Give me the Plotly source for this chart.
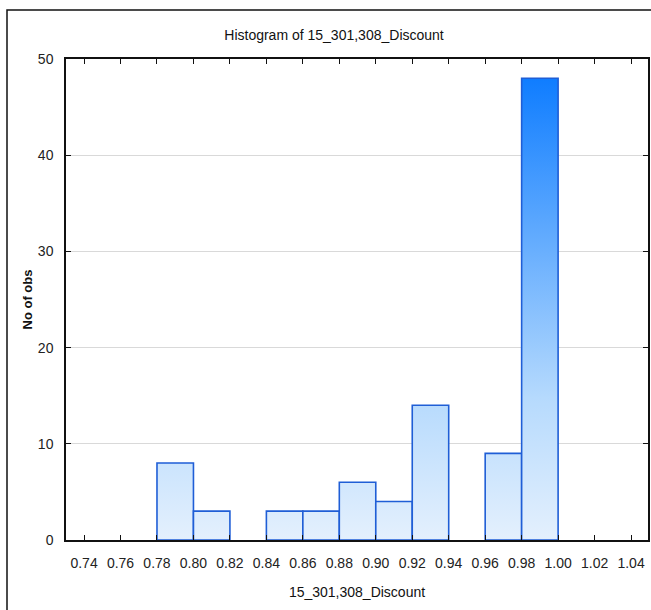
import plotly.graph_objects as go

# ---- data ----
bin_lefts = [0.78, 0.80, 0.84, 0.86, 0.88, 0.90, 0.92, 0.96, 0.98]
counts = [8, 3, 3, 3, 6, 4, 14, 9, 48]
bin_width = 0.02
x_tick_vals = [0.74, 0.76, 0.78, 0.80, 0.82, 0.84, 0.86, 0.88, 0.90, 0.92,
               0.94, 0.96, 0.98, 1.00, 1.02, 1.04]
x_tick_text = ["0.74", "0.76", "0.78", "0.80", "0.82", "0.84", "0.86", "0.88",
               "0.90", "0.92", "0.94", "0.96", "0.98", "1.00", "1.02", "1.04"]
y_tick_vals = [0, 10, 20, 30, 40, 50]

FONT = "Liberation Sans, Arial, sans-serif"
fig = go.Figure()

for left, c in zip(bin_lefts, counts):
    right = left + bin_width
    fig.add_trace(go.Scatter(
        x=[left, left, right, right, left],
        y=[0, c, c, 0, 0],
        mode="lines",
        fill="toself",
        fillgradient=dict(type="vertical",
                          colorscale=[[0, "#e4f0fd"], [0.3, "#b6dafd"], [1, "#0a7aff"]],
                          start=0, stop=49),
        line=dict(color="#1f5ed6", width=1.6),
        hoverinfo="skip",
        showlegend=False,
    ))

axis_common = dict(
    showline=True, linecolor="#111", linewidth=1.5, mirror="ticks",
    ticks="inside", ticklen=5, tickcolor="#111", tickwidth=1.2,
    zeroline=False, automargin=False,
    tickfont=dict(family=FONT, size=14, color="#222"),
)

fig.update_layout(
    width=651, height=610,
    margin=dict(l=66, r=3, t=59, b=70),
    paper_bgcolor="white", plot_bgcolor="white",
    title=dict(text="Histogram of 15_301,308_Discount",
               font=dict(family=FONT, size=14, color="#111"),
               x=334 / 651, xanchor="center", xref="container",
               y=1 - 35 / 610, yanchor="middle", yref="container"),
    xaxis=dict(range=[0.7301, 1.0493], tickvals=x_tick_vals, ticktext=x_tick_text,
               showgrid=False, ticklabelstandoff=9,
               title=dict(text="15_301,308_Discount", standoff=18,
                          font=dict(family=FONT, size=14, color="#111")),
               **axis_common),
    yaxis=dict(range=[0, 50], tickvals=y_tick_vals,
               showgrid=True, gridcolor="#d9d9d9", gridwidth=1.2,
               ticklabelstandoff=8,
               title=dict(text="<b>No of obs</b>", standoff=2,
                          font=dict(family=FONT, size=13, color="#111")),
               **axis_common),
    shapes=[dict(type="rect", xref="paper", yref="paper",
                 x0=(7 - 66) / 582, x1=1.3, y0=-0.3, y1=(540 - 10) / 481,
                 line=dict(color="#111", width=1.5), fillcolor="rgba(0,0,0,0)",
                 layer="below")],
)

fig.write_html("out.html", config={"displayModeBar": False},
               post_script="document.body.style.margin='0px';")
